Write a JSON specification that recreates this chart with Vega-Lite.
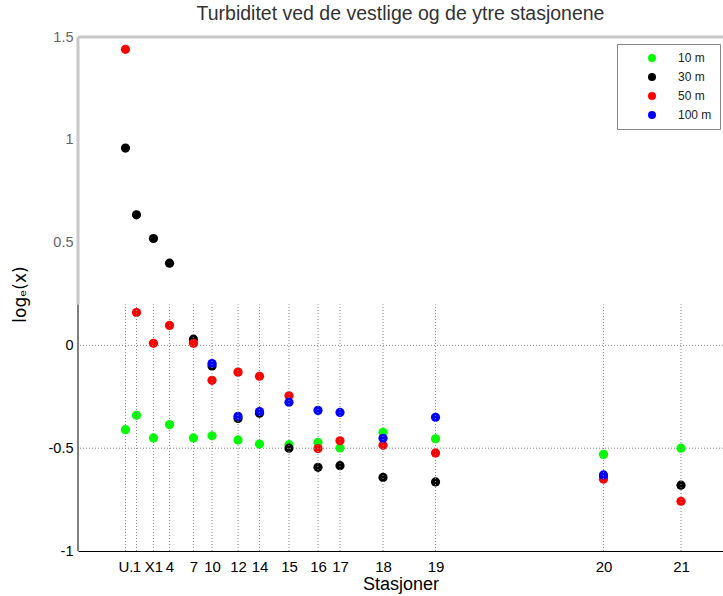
{
  "$schema": "https://vega.github.io/schema/vega-lite/v6.json",
  "autosize": {"type": "none"},
  "padding": {"left": 78, "top": 37, "right": 0, "bottom": 45},
  "width": 645,
  "height": 514,
  "background": "white",
  "config": {"view": {"stroke": null}, "font": "Liberation Sans"},
  "title": {"text": "Turbiditet ved de vestlige og de ytre stasjonene", "fontSize": 19.5, "fontWeight": "normal", "color": "#333", "anchor": "middle", "offset": 5, "font": "Liberation Sans"},
  "datasets": {
    "stations": [
      {"st": "U.", "pos": 7.36}, {"st": "1", "pos": 9.07}, {"st": "X1", "pos": 11.7}, {"st": "4", "pos": 14.19},
      {"st": "7", "pos": 17.9}, {"st": "10", "pos": 20.78}, {"st": "12", "pos": 24.81}, {"st": "14", "pos": 28.14},
      {"st": "15", "pos": 32.71}, {"st": "16", "pos": 37.21}, {"st": "17", "pos": 40.62}, {"st": "18", "pos": 47.29},
      {"st": "19", "pos": 55.43}, {"st": "20", "pos": 81.47}, {"st": "21", "pos": 93.49}
    ],
    "obs": [
      {"st": "U.", "pos": 7.36, "depth": "10 m", "v": -0.41},
      {"st": "1", "pos": 9.07, "depth": "10 m", "v": -0.34},
      {"st": "X1", "pos": 11.7, "depth": "10 m", "v": -0.45},
      {"st": "4", "pos": 14.19, "depth": "10 m", "v": -0.385},
      {"st": "7", "pos": 17.9, "depth": "10 m", "v": -0.45},
      {"st": "10", "pos": 20.78, "depth": "10 m", "v": -0.44},
      {"st": "12", "pos": 24.81, "depth": "10 m", "v": -0.46},
      {"st": "14", "pos": 28.14, "depth": "10 m", "v": -0.48},
      {"st": "15", "pos": 32.71, "depth": "10 m", "v": -0.483},
      {"st": "16", "pos": 37.21, "depth": "10 m", "v": -0.472},
      {"st": "17", "pos": 40.62, "depth": "10 m", "v": -0.499},
      {"st": "18", "pos": 47.29, "depth": "10 m", "v": -0.423},
      {"st": "19", "pos": 55.43, "depth": "10 m", "v": -0.454},
      {"st": "20", "pos": 81.47, "depth": "10 m", "v": -0.53},
      {"st": "21", "pos": 93.49, "depth": "10 m", "v": -0.5},
      {"st": "U.", "pos": 7.36, "depth": "30 m", "v": 0.96},
      {"st": "1", "pos": 9.07, "depth": "30 m", "v": 0.635},
      {"st": "X1", "pos": 11.7, "depth": "30 m", "v": 0.52},
      {"st": "4", "pos": 14.19, "depth": "30 m", "v": 0.4},
      {"st": "7", "pos": 17.9, "depth": "30 m", "v": 0.03},
      {"st": "10", "pos": 20.78, "depth": "30 m", "v": -0.1},
      {"st": "12", "pos": 24.81, "depth": "30 m", "v": -0.355},
      {"st": "14", "pos": 28.14, "depth": "30 m", "v": -0.33},
      {"st": "15", "pos": 32.71, "depth": "30 m", "v": -0.5},
      {"st": "16", "pos": 37.21, "depth": "30 m", "v": -0.593},
      {"st": "17", "pos": 40.62, "depth": "30 m", "v": -0.585},
      {"st": "18", "pos": 47.29, "depth": "30 m", "v": -0.642},
      {"st": "19", "pos": 55.43, "depth": "30 m", "v": -0.664},
      {"st": "20", "pos": 81.47, "depth": "30 m", "v": -0.645},
      {"st": "21", "pos": 93.49, "depth": "30 m", "v": -0.68},
      {"st": "U.", "pos": 7.36, "depth": "50 m", "v": 1.44},
      {"st": "1", "pos": 9.07, "depth": "50 m", "v": 0.16},
      {"st": "X1", "pos": 11.7, "depth": "50 m", "v": 0.01},
      {"st": "4", "pos": 14.19, "depth": "50 m", "v": 0.097},
      {"st": "7", "pos": 17.9, "depth": "50 m", "v": 0.01},
      {"st": "10", "pos": 20.78, "depth": "50 m", "v": -0.17},
      {"st": "12", "pos": 24.81, "depth": "50 m", "v": -0.13},
      {"st": "14", "pos": 28.14, "depth": "50 m", "v": -0.15},
      {"st": "15", "pos": 32.71, "depth": "50 m", "v": -0.245},
      {"st": "16", "pos": 37.21, "depth": "50 m", "v": -0.502},
      {"st": "17", "pos": 40.62, "depth": "50 m", "v": -0.464},
      {"st": "18", "pos": 47.29, "depth": "50 m", "v": -0.486},
      {"st": "19", "pos": 55.43, "depth": "50 m", "v": -0.523},
      {"st": "20", "pos": 81.47, "depth": "50 m", "v": -0.65},
      {"st": "21", "pos": 93.49, "depth": "50 m", "v": -0.758},
      {"st": "10", "pos": 20.78, "depth": "100 m", "v": -0.088},
      {"st": "12", "pos": 24.81, "depth": "100 m", "v": -0.345},
      {"st": "14", "pos": 28.14, "depth": "100 m", "v": -0.322},
      {"st": "15", "pos": 32.71, "depth": "100 m", "v": -0.276},
      {"st": "16", "pos": 37.21, "depth": "100 m", "v": -0.316},
      {"st": "17", "pos": 40.62, "depth": "100 m", "v": -0.326},
      {"st": "18", "pos": 47.29, "depth": "100 m", "v": -0.452},
      {"st": "19", "pos": 55.43, "depth": "100 m", "v": -0.35},
      {"st": "20", "pos": 81.47, "depth": "100 m", "v": -0.63}
    ],
    "hgrid": [{"v": 0}, {"v": -0.5}]
  },
  "layer": [
    {
      "data": {"name": "obs"},
      "mark": {"type": "circle", "size": 85, "opacity": 1},
      "encoding": {
        "x": {
          "field": "pos", "type": "quantitative",
          "scale": {"domain": [0, 100], "nice": false, "zero": false},
          "axis": {
            "title": "Stasjoner", "titleFontSize": 18, "titleFontWeight": "normal", "titleColor": "#000", "titlePadding": 1,
            "values": [7.36, 9.07, 11.7, 14.19, 17.9, 20.78, 24.81, 28.14, 32.71, 37.21, 40.62, 47.29, 55.43, 81.47, 93.49],
            "labelExpr": "['U.','1','X1','4','7','10','12','14','15','16','17','18','19','20','21'][indexof([7.36, 9.07, 11.7, 14.19, 17.9, 20.78, 24.81, 28.14, 32.71, 37.21, 40.62, 47.29, 55.43, 81.47, 93.49], datum.value)]",
            "labelFontSize": 15, "labelColor": "#000", "labelPadding": 8, "labelOverlap": false, "labelBound": false,
            "ticks": false, "grid": false, "domain": true, "domainColor": "#000", "domainWidth": 1
          }
        },
        "y": {
          "field": "v", "type": "quantitative",
          "scale": {"domain": [-1, 1.5], "nice": false, "zero": false},
          "axis": {
            "title": "logₑ(x)", "titleFontSize": 17, "titleFontWeight": "normal", "titleColor": "#000",
            "titleFont": "DejaVu Sans",
            "titleX": -53, "titleY": 257, "titleAngle": -90, "titleAlign": "center", "titleBaseline": "alphabetic",
            "values": [-1, -0.5, 0, 0.5, 1, 1.5],
            "labelExpr": "'' + datum.value",
            "labelFontSize": 14.5, "labelPadding": 5,
            "labelColor": {"expr": "datum.value > 0.2 ? '#666' : '#000'"},
            "ticks": false, "grid": false, "domain": false
          }
        },
        "color": {
          "field": "depth", "type": "nominal",
          "scale": {"domain": ["10 m", "30 m", "50 m", "100 m"], "range": ["#00ff00", "#000000", "#ff0000", "#0000ff"]},
          "legend": {
            "title": null, "orient": "none", "legendX": 539, "legendY": 7,
            "padding": 8, "strokeColor": "#888", "fillColor": "white",
            "symbolType": "circle", "symbolSize": 64, "symbolOffset": 21, "symbolStrokeWidth": 0,
            "labelOffset": 20, "labelFontSize": 12, "labelColor": "#222", "rowPadding": 7
          }
        }
      }
    },
    {
      "data": {"name": "stations"},
      "mark": {"type": "rule", "color": "#888", "strokeDash": [1, 2], "strokeWidth": 1},
      "encoding": {
        "x": {"field": "pos", "type": "quantitative", "title": "Stasjoner"},
        "y": {"datum": -1, "type": "quantitative"},
        "y2": {"datum": 0.2}
      }
    },
    {
      "data": {"name": "hgrid"},
      "mark": {"type": "rule", "color": "#888", "strokeDash": [1, 2], "strokeWidth": 1},
      "encoding": {
        "y": {"field": "v", "type": "quantitative", "title": "logₑ(x)"}
      }
    },
    {
      "data": {"values": [{}]},
      "mark": {"type": "rule", "color": "#000", "strokeWidth": 1},
      "encoding": {
        "x": {"datum": 0, "type": "quantitative"},
        "y": {"datum": -1, "type": "quantitative"},
        "y2": {"datum": 0.2}
      }
    },
    {
      "data": {"values": [{}]},
      "mark": {"type": "rule", "color": "#c8c8c8", "strokeWidth": 3},
      "encoding": {
        "x": {"datum": 0, "type": "quantitative"},
        "y": {"datum": 0.2, "type": "quantitative"},
        "y2": {"datum": 1.5}
      }
    },
    {
      "data": {"values": [{}]},
      "mark": {"type": "rule", "color": "#c8c8c8", "strokeWidth": 3},
      "encoding": {
        "x": {"datum": 0, "type": "quantitative"},
        "x2": {"datum": 100},
        "y": {"datum": 1.5, "type": "quantitative"}
      }
    }
  ]
}
